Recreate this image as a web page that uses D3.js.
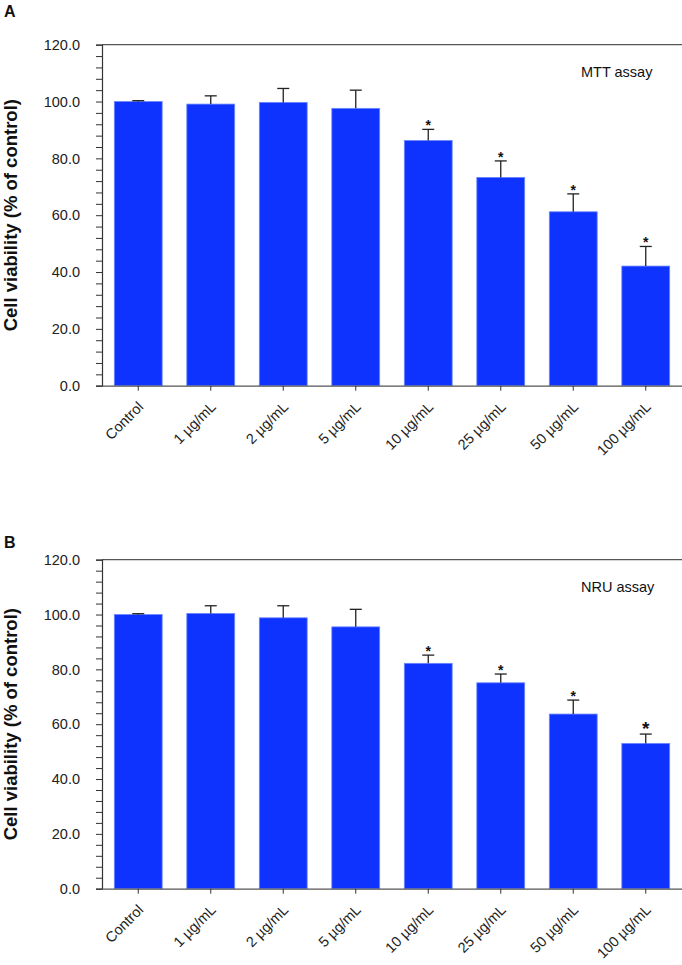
<!DOCTYPE html>
<html>
<head>
<meta charset="utf-8">
<script src="https://cdn.jsdelivr.net/npm/d3@7"></script>
<style>
  html, body { margin: 0; padding: 0; background: #fff; }
  svg { display: block; font-family: "Liberation Sans", Arial, sans-serif; }
</style>
</head>
<body>
<svg id="chart" width="682" height="965"></svg>
<script>
const categories = ["Control", "1 µg/mL", "2 µg/mL", "5 µg/mL", "10 µg/mL", "25 µg/mL", "50 µg/mL", "100 µg/mL"];
const mttMean = [100.0, 99.1, 99.7, 97.6, 86.3, 73.3, 61.2, 42.1];
const mttErr  = [0.3, 2.9, 4.9, 6.4, 3.9, 5.8, 6.3, 6.9];
const mttSig  = [false, false, false, false, true, true, true, true];
const nruMean = [100.0, 100.4, 98.8, 95.5, 82.2, 75.1, 63.7, 53.0];
const nruErr  = [0.3, 2.8, 4.4, 6.4, 3.0, 3.2, 5.1, 3.4];
const nruSig  = [false, false, false, false, true, true, true, true];
const yTickLabels = [0, 20, 40, 60, 80, 100, 120];
const panels = [
  { letter: "A", assay: "MTT assay", mean: mttMean, err: mttErr, sig: mttSig, top: 44.7, bottom: 385.7, letterY: 17 },
  { letter: "B", assay: "NRU assay", mean: nruMean, err: nruErr, sig: nruSig, top: 559.7, bottom: 888.7, letterY: 548 }
];

const svg = d3.select("#chart");
const left = 102, right = 682;
const x = d3.scaleBand().domain(categories).range([left, right]).paddingInner(0.34).paddingOuter(0.17);

panels.forEach((p, pi) => {
  const g = svg.append("g");
  const y = d3.scaleLinear().domain([0, 120]).range([p.bottom, p.top]);

  // panel letter
  g.append("text").attr("x", 4).attr("y", p.letterY)
    .attr("font-size", 16).attr("font-weight", "bold").attr("fill", "#111").text(p.letter);

  // top frame
  g.append("line").attr("x1", left).attr("x2", right).attr("y1", y(120)).attr("y2", y(120))
    .attr("stroke", "#555").attr("stroke-width", 1.2);

  // bars
  g.selectAll("rect.bar").data(categories).enter().append("rect")
    .attr("class", "bar")
    .attr("x", d => x(d))
    .attr("width", x.bandwidth())
    .attr("y", (d, i) => y(p.mean[i]))
    .attr("height", (d, i) => y(0) - y(p.mean[i]))
    .attr("fill", "#0f33ff")
    .attr("stroke", "#6b86ff").attr("stroke-width", 0.8);

  // error bars (upper only)
  const eg = g.selectAll("g.err").data(categories).enter().append("g").attr("class", "err");
  eg.append("line")
    .attr("x1", d => x(d) + x.bandwidth() / 2).attr("x2", d => x(d) + x.bandwidth() / 2)
    .attr("y1", (d, i) => y(p.mean[i])).attr("y2", (d, i) => y(p.mean[i] + p.err[i]))
    .attr("stroke", "#222").attr("stroke-width", 1.3);
  eg.append("line")
    .attr("x1", d => x(d) + x.bandwidth() / 2 - 6).attr("x2", d => x(d) + x.bandwidth() / 2 + 6)
    .attr("y1", (d, i) => y(p.mean[i] + p.err[i])).attr("y2", (d, i) => y(p.mean[i] + p.err[i]))
    .attr("stroke", "#222").attr("stroke-width", 1.3);

  // significance asterisks
  g.selectAll("text.sig").data(categories.filter((d, i) => p.sig[i])).enter().append("text")
    .attr("class", "sig")
    .attr("x", d => x(d) + x.bandwidth() / 2)
    .attr("y", d => { const i = categories.indexOf(d); return y(p.mean[i] + p.err[i]) + 1; })
    .attr("text-anchor", "middle")
    .attr("font-size", d => (pi === 1 && d === categories[7]) ? 19 : 14)
    .attr("font-weight", "bold")
    .attr("fill", "#111")
    .text("*");

  // y axis
  const yAxis = d3.axisLeft(y).tickValues(d3.range(0, 121, 4)).tickSize(6).tickFormat("");
  const ya = g.append("g").attr("transform", `translate(${left},0)`).call(yAxis);
  ya.select(".domain").attr("stroke", "#333").attr("stroke-width", 1.2);
  ya.selectAll(".tick line").attr("stroke", "#333").attr("stroke-width", 1);
  g.selectAll("text.ytl").data(yTickLabels).enter().append("text")
    .attr("class", "ytl")
    .attr("x", 80).attr("y", d => y(d)).attr("dy", "0.36em")
    .attr("text-anchor", "end").attr("font-size", 14.5).attr("fill", "#222")
    .text(d => d3.format(".1f")(d));

  // x axis
  const xAxis = d3.axisBottom(x).tickSize(5).tickSizeOuter(0).tickFormat("");
  const xa = g.append("g").attr("transform", `translate(0,${p.bottom})`).call(xAxis);
  xa.select(".domain").attr("stroke", "#555").attr("stroke-width", 1.2);
  xa.selectAll(".tick line").attr("stroke", "#333");
  g.selectAll("text.xtl").data(categories).enter().append("text")
    .attr("class", "xtl")
    .attr("transform", d => `translate(${x(d) + x.bandwidth() / 2 + 6},${p.bottom + 22}) rotate(-45)`)
    .attr("text-anchor", "end").attr("font-size", 14.5).attr("fill", "#222")
    .text(d => d);

  // y title
  g.append("text")
    .attr("transform", `translate(17,${(p.top + p.bottom) / 2}) rotate(-90)`)
    .attr("text-anchor", "middle").attr("font-size", 18.5).attr("font-weight", "bold").attr("fill", "#111")
    .text("Cell viability (% of control)");

  // assay label
  g.append("text").attr("x", 581).attr("y", p.top + 32)
    .attr("font-size", 14.5).attr("fill", "#111").text(p.assay);
});
</script>
</body>
</html>
